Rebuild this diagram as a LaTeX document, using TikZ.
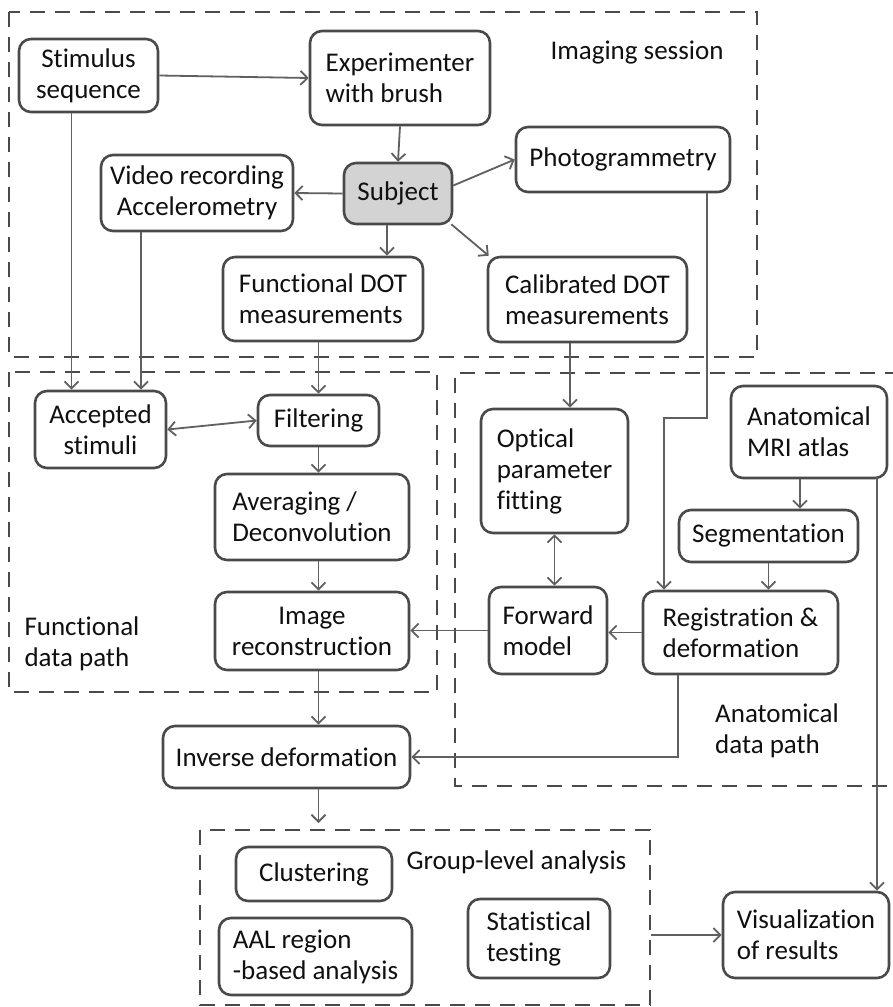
\documentclass[tikz,border=0pt]{standalone}
\usepackage{fontspec}
\setmainfont{Carlito}[Ligatures=NoCommon]
\usetikzlibrary{arrows.meta,calc}
\definecolor{boxline}{HTML}{4A4A4A}
\definecolor{arrline}{HTML}{606060}
\definecolor{subjfill}{HTML}{D3D3D3}
\definecolor{txt}{HTML}{101010}
\begin{document}
\begin{tikzpicture}[x=1pt,y=-1pt,
  every node/.style={font=\fontsize{27}{31}\selectfont, text=txt},
  box/.style={draw=boxline, line width=2.6pt, rounded corners=12pt, inner sep=0pt, fill=white},
  grp/.style={draw=boxline, line width=2.8pt, dash pattern=on 15pt off 10pt},
  arr/.style={draw=arrline, line width=1.8pt, -{Straight Barb[length=7pt,width=14pt,line width=1.8pt]}},
  darr/.style={draw=arrline, line width=1.8pt, {Straight Barb[length=7pt,width=14pt,line width=1.8pt]}-{Straight Barb[length=7pt,width=14pt,line width=1.8pt]}},
  lbl/.style={inner sep=0pt, align=left}
]
\useasboundingbox (0,0) rectangle (892,1007);
\fill[white] (0,0) rectangle (892,1007);

% group boxes
\draw[grp] (9,12) rectangle (757,357);
\draw[grp] (9,372) rectangle (437,692);
\draw[grp] (900,373) -- (455,373) -- (455,786) -- (900,786);
\draw[grp] (200,830) rectangle (650,1005);
\node[grp, draw=none, minimum width=450pt, minimum height=175pt, inner sep=0pt] (grpbox) at (425,917.5) {};

% labels
\node[lbl] (imglbl) at (637,53) {Imaging session};
\node[lbl] (funclbl) at (82,644) {Functional\\data path};
\node[lbl] (anatlbl) at (777,731) {Anatomical\\data path};
\node[lbl] (grplbl) at (516.5,862) {Group-level analysis};

% imaging session
\node[box, minimum width=139pt, minimum height=73pt, align=center] (stim) at (88.5,75.5) {Stimulus\\sequence};
\node[box, minimum width=180pt, minimum height=94pt, align=left] (exp) at (400,78) {Experimenter\\with brush};
\node[box, minimum width=108pt, minimum height=61pt, fill=subjfill] (subj) at (398,193.5) {Subject};
\node[box, minimum width=192pt, minimum height=76pt, align=center] (video) at (197,193) {Video recording\\Accelerometry};
\node[box, minimum width=214pt, minimum height=65pt] (photo) at (623,159.5) {Photogrammetry};
\node[box, minimum width=200pt, minimum height=84pt, align=left] (fdot) at (323,299) {Functional DOT\\measurements};
\node[box, minimum width=199pt, minimum height=85pt, align=left] (cdot) at (587.5,299.5) {Calibrated DOT\\measurements};

% functional path
\node[box, minimum width=131pt, minimum height=77pt, align=center] (acc) at (100.5,429.5) {Accepted\\stimuli};
\node[box, minimum width=121pt, minimum height=51pt] (filt) at (318.5,420.5) {Filtering};
\node[box, minimum width=194pt, minimum height=86pt, align=left] (avg) at (312,517) {Averaging /\\Deconvolution};
\node[box, minimum width=194pt, minimum height=78pt, align=center] (irec) at (312,631) {Image\\reconstruction};

% anatomical path
\node[box, minimum width=147pt, minimum height=124pt, align=left] (opt) at (554.5,471) {Optical\\parameter\\fitting};
\node[box, minimum width=156pt, minimum height=92pt, align=left] (atlas) at (809,432) {Anatomical\\MRI atlas};
\node[box, minimum width=179pt, minimum height=52pt] (seg) at (768.5,536) {Segmentation};
\node[box, minimum width=195pt, minimum height=83pt, align=left] (reg) at (740.5,632.5) {Registration \&\\deformation};
\node[box, minimum width=118pt, minimum height=87pt, align=left] (fwd) at (548,630.5) {Forward\\model};

% lower part
\node[box, minimum width=247pt, minimum height=62pt] (inv) at (286.5,757) {Inverse deformation};
\node[box, minimum width=156pt, minimum height=54pt] (clus) at (314,874) {Clustering};
\node[box, minimum width=193pt, minimum height=77pt, align=left] (aal) at (315.5,956.5) {AAL region\\-based analysis};
\node[box, minimum width=142pt, minimum height=79pt, align=left] (stat) at (539,938.5) {Statistical\\testing};
\node[box, minimum width=166pt, minimum height=86pt, align=left] (vis) at (806,935) {Visualization\\of results};

\coordinate (grptop) at (318.5,823);

% connectors: imaging session
\draw[arr] (stim.east) -- (exp.west);
\draw[arr] (exp.south) -- (subj.north);
\draw[arr] (subj.west) -- (video.east);
\draw[arr] ([yshift=8pt]subj.east) -- (photo.west);
\draw[arr] ([xshift=-2pt,yshift=1pt]subj.south east) -- ([xshift=2pt]cdot.north west);
\draw[arr] ([xshift=-11pt]subj.south) -- ([xshift=-11pt]subj.south |- fdot.north);

% functional path
\draw[arr] ([xshift=-17pt]stim.south) -- ([xshift=-17pt]stim.south |- acc.north);
\draw[arr] ([xshift=-56pt]video.south) -- ([xshift=-56pt]video.south |- acc.north);
\draw[darr] (acc.east) -- (filt.west);
\draw[arr] (filt.north |- fdot.south) -- (filt.north);
\draw[arr] (filt.south) -- (filt.south |- avg.north);
\draw[arr] (filt.south |- avg.south) -- (filt.south |- irec.north);
\draw[arr] (filt.south |- irec.south) -- (filt.south |- inv.north);
\draw[arr] (filt.south |- inv.south) -- (grptop);

% anatomical path
\draw[arr] ([xshift=-17.5pt]cdot.south) -- ([xshift=-17.5pt]cdot.south |- opt.north);
\draw[arr] ([xshift=84pt]photo.south) -- ++(0,225) -| ([xshift=-76.5pt]reg.north);
\draw[arr] ([xshift=-9pt]atlas.south) -- ([xshift=-9pt]atlas.south |- seg.north);
\draw[arr] (seg.south) -- (seg.south |- reg.north);
\draw[arr] (reg.west) -- (reg.west -| fwd.east);
\draw[darr] (opt.south) -- (opt.south |- fwd.north);
\draw[arr] (fwd.west) -- (fwd.west -| irec.east);
\draw[arr] ([xshift=-62.5pt]reg.south) |- (inv.east);
\draw[arr] ([xshift=68pt,yshift=2pt]atlas.south) -- ([xshift=68pt]atlas.south |- vis.north);

% group to visualization
\draw[arr] (vis.west -| grpbox.east) -- (vis.west);
\end{tikzpicture}
\end{document}
